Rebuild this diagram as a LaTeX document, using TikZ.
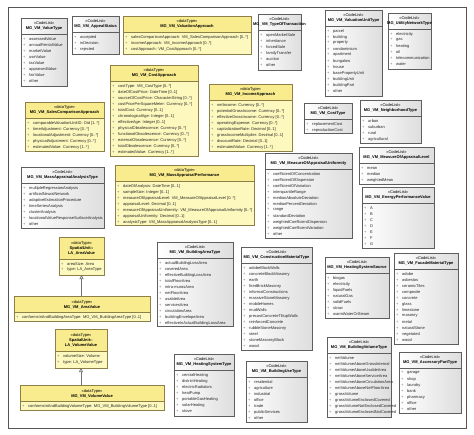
\documentclass[tikz,border=0pt]{standalone}
\usepackage{fontspec}
\setmainfont{Liberation Sans}
\usetikzlibrary{arrows.meta}
\definecolor{clborder}{HTML}{5E5E5E}
\definecolor{dtborder}{HTML}{8C8048}
\definecolor{dtbody}{HTML}{FDF8BE}
\definecolor{dthead}{HTML}{F8EC8E}
\definecolor{bulc}{HTML}{6E6E6E}
\definecolor{framec}{HTML}{555555}
\tikzset{
  clbox/.style={draw=none, left color=white, right color=black!13, inner sep=0pt, outer sep=0pt},
  dtbox/.style={draw=none, fill=dtbody, inner sep=0pt, outer sep=0pt},
  clhd/.style={},
  dthd/.style={fill=dthead},
  clline/.style={draw=clborder, line width=0.6pt},
  dtline/.style={draw=dtborder, line width=0.6pt},
  itemtxt/.style={anchor=west, inner sep=0pt, font=\fontsize{4}{5}\selectfont, text=black!85},
  headtxt/.style={align=center, inner sep=0pt, font=\fontsize{4}{5}\selectfont},
  shadowbox/.style={fill=black!28},
  gen/.style={draw=black!55, line width=0.6pt, -{Triangle[open,length=4pt,width=4pt]}},
  frameline/.style={draw=framec, line width=0.8pt}
}
\newcommand\bulit{\makebox[6pt][l]{\textcolor{bulc}{+}}}
\newcommand\CL[1]{«CodeList»\\\textbf{#1}}
\newcommand\DT[1]{«dataType»\\\textbf{#1}}
% #1 id, #2 kind (cl/dt), #3 x1, #4 y1, #5 x2, #6 y2, #7 header height, #8 header, #9 items
\newcommand\ubox[9]{%
  \pgfmathsetmacro\bw{#5-#3}%
  \pgfmathsetmacro\bh{#6-#4}%
  \fill[shadowbox] (#3+1.4,#4+1.4) rectangle (#5+1.4,#6+1.4);
  \node[#2box, minimum width=\bw pt, minimum height=\bh pt, anchor=north west] (#1) at (#3,#4) {};
  \path[#2hd] (#1.north west) rectangle ([yshift=-#7pt]#1.north east);
  \draw[#2line] (#1.north west) rectangle (#1.south east);
  \draw[#2line] ([yshift=-#7pt]#1.north west) -- ([yshift=-#7pt]#1.north east);
  \node[headtxt] (#1-h) at ({(#3+#5)/2},{#4+#7/2+0.4}) {#8};
  \foreach \t [count=\i] in {#9} {
    \node[itemtxt] (#1-\i) at (#3+2,{#4+#7+5+6*(\i-1)}) {\bulit\t};
  }
}
\begin{document}
\begin{tikzpicture}[x=1pt,y=-1pt]
\useasboundingbox (0,0) rectangle (474,434);
\fill[white] (0,0) rectangle (474,434);
\draw[frameline] (8,7) rectangle (466,428);

\ubox{vt}{cl}{21}{18}{67}{86}{16}{\CL{MG\_VM\_ValueType}}{assessedValue,annualRentalValue,marketValue,useValue,taxValue,appraisedValue,fairValue,other}
\ubox{as}{cl}{72}{16}{119}{54}{16}{\CL{MG\_VM\_AppealStatus}}{accepted,inDecision,rejected}
\ubox{va}{dt}{123}{16}{251}{54}{16}{\DT{MG\_VM\_ValuationApproach}}{{salesComparisonApproach: VM\_SalesComparisonApproach [0..*]},{incomeApproach: VM\_IncomeApproach [0..*]},{costApproach: VM\_CostApproach [0..*]}}
\ubox{tt}{cl}{258}{14}{301}{70}{16}{\CL{MG\_VM\_TypeOfTransaction}}{openMarketSale,inheritance,forcedSale,familyTransfer,auction,other}
\ubox{vu}{cl}{325}{10}{382}{96}{16}{\CL{MG\_VM\_ValuationUnitType}}{parcel,building,property,condominium,apartment,bungalow,house,basePropertyUnit,buildingUnit,buildingPart,other}
\ubox{un}{cl}{388}{13}{431}{69}{16}{\CL{MG\_UtilityNetworkType}}{electricity,gas,heating,oil,telecommunication,water}

\ubox{ca}{dt}{110}{65}{198}{156}{16}{\DT{MG\_VM\_CostApproach}}{{costType: VM\_CostType [0..*]},{dateOfCostPrice: DateTime [0..1]},{sourceOfCostPrice: CharacterString [0..*]},{costPricePerSquareMeter: Currency [0..*]},{totalCost: Currency [0..1]},{chronologicalAge: Integer [0..1]},{effectiveAge: Integer [0..1]},{physicalObsolescence: Currency [0..*]},{functionalObsolescence: Currency [0..*]},{externalObsolescence: Currency [0..*]},{totalObsolescence: Currency [0..*]},{estimatedValue: Currency [1..*]}}
\ubox{ia}{dt}{209}{84}{292}{151}{16}{\DT{MG\_VM\_IncomeApproach}}{{netIncome: Currency [0..*]},{potentialGrossIncome: Currency [0..*]},{effectiveGrossIncome: Currency [0..*]},{operatingExpense: Currency [0..*]},{capitalizationRate: Decimal [0..1]},{grossIncomeMultiplier: Decimal [0..1]},{discountRate: Decimal [0..1]},{estimatedValue: Currency [1..*]}}
\ubox{sc}{dt}{25}{102}{104}{151}{16}{\DT{MG\_VM\_SalesComparisonApproach}}{{comparableValuationUnitID: Oid [1..*]},{timeAdjustment: Currency [0..*]},{locationalAdjustment: Currency [0..*]},{physicalAdjustment: Currency [0..*]},{estimatedValue: Currency [1..*]}}
\ubox{ct}{cl}{304}{103}{352}{133}{16}{\CL{MG\_VM\_CostType}}{replacementCost,reproductionCost}
\ubox{nt}{cl}{360}{100}{421}{143}{16}{\CL{MG\_VM\_NeighborhoodType}}{urban,suburban,rural,agricultural}
\ubox{ml}{cl}{359}{147}{434}{184}{16}{\CL{MG\_VM\_MeasureOfAppraisalLevel}}{mean,median,weightedMean}
\ubox{ep}{cl}{362}{187}{434}{248}{16}{\CL{MG\_VM\_EnergyPerformanceValue}}{A,B,C,D,E,F,G}
\ubox{mu}{cl}{265}{153}{352}{238}{16}{\CL{MG\_VM\_MeasureOfAppraisalUniformity}}{coefficientOfConcentration,coefficientOfDispersion,coefficientOfVariation,interquartileRange,medianAbsoluteDeviation,medianPercentDeviation,range,standardDeviation,weightedCoefficientDispersion,weightedCoefficientVariation,other}
\ubox{mp}{dt}{115}{165}{254}{225}{16}{\DT{MG\_VM\_MassAppraisalPerformance}}{{dateOfAnalysis: DateTime [0..1]},{sampleSize: Integer [0..1]},{measureOfAppraisalLevel: VM\_MeasureOfAppraisalLevel [0..*]},{appraisalLevel: Decimal [0..1]},{measureOfAppraisalUniformity: VM\_MeasureOfAppraisalUniformity [0..*]},{appraisalUniformity: Decimal [0..1]},{analysisType: VM\_MassAppraisalAnalysisType [0..1]}}
\ubox{mt}{cl}{21}{167}{104}{228}{16}{\CL{MG\_VM\_MassAppraisalAnalysisType}}{multipleRegressionAnalysis,artificialNeuralNetwork,adaptiveEstimationProcedure,timeSeriesAnalysis,clusterAnalysis,locationalValueResponseSurfaceAnalysis,other}

\ubox{la}{dt}{59}{237}{104}{275}{22}{«dataType»\\\textbf{SpatialUnit::}\\\textbf{LA\_AreaValue}}{{areaSize: Area},{type: LA\_AreaType}}
\ubox{av}{dt}{14}{296}{150}{321}{16}{\DT{MG\_VM\_AreaValue}}{{conformsInAndBuildingAreaType: MG\_VM\_BuildingAreaType [0..1]}}
\ubox{lv}{dt}{55}{329}{107}{368}{22}{«dataType»\\\textbf{SpatialUnit::}\\\textbf{LA\_VolumeValue}}{{volumeSize: Volume},{type: LA\_VolumeType}}
\ubox{vv}{dt}{20}{385}{164}{410}{16}{\DT{MG\_VM\_VolumeValue}}{{conformsInAndBuildingVolumeType: MG\_VM\_BuildingVolumeType [0..1]}}

\ubox{ba}{cl}{157}{242}{233}{326}{16}{\CL{MG\_VM\_BuildingAreaType}}{actualBuildingLossArea,coveredArea,effectiveBuildingLossArea,totalFloorArea,intra-murosArea,netFloorArea,usableArea,servicesArea,circulationArea,buildingEnvelopeArea,effectiveInActualBuildingLossArea}
\ubox{cm}{cl}{241}{247}{312}{350}{16}{\CL{MG\_VM\_ConstructionMaterialType}}{adobeBlockWalls,concreteBlockMasonry,earth,firedBrickMasonry,informalConstructions,massiveStoneMasonry,mobileHomes,mudWalls,precastConcreteTiltupWalls,reinforcedConcrete,rubbleStoneMasonry,steel,stoneMasonryBlock,wood}
\ubox{hs}{cl}{325}{257}{389}{318}{16}{\CL{MG\_VM\_HeatingSystemSource}}{biogas,electricity,liquidFuels,naturalGas,solidFuels,straw,warmWaterOrSteam}
\ubox{fm}{cl}{394}{253}{458}{344}{16}{\CL{MG\_VM\_FacadeMaterialType}}{adobe,asbestos,ceramicTiles,composite,concrete,glass,limestone,masonry,metal,naturalStone,vegetated,wood}
\ubox{ht}{cl}{174}{354}{234}{416}{16}{\CL{MG\_VM\_HeatingSystemType}}{centralHeating,districtHeating,electricRadiators,heatPump,portableGasHeating,solarHeating,stove}
\ubox{bu}{cl}{246}{361}{307}{422}{16}{\CL{MG\_VM\_BuildingUseType}}{residential,agriculture,industrial,office,trade,publicServices,other}
\ubox{bv}{cl}{327}{337}{391}{417}{16}{\CL{MG\_VM\_BuildingVolumeType}}{netVolume,netVolumeAboveGrossInternal,netVolumeAboveUsableArea,netVolumeAboveServiceArea,netVolumeAboveCirculationArea,netVolumeAboveNetFloorArea,grossVolume,grossVolumeEnclosedCovered,grossVolumeNotEnclosedCovered,grossVolumeEnclosedNotCovered}
\ubox{ap}{cl}{399}{352}{461}{413}{16}{\CL{MG\_VM\_AccessoryPartType}}{garage,shop,laundry,bank,pharmacy,office,other}

\draw[gen] (av.north -| la.south) -- (la.south);
\draw[gen] (vv.north -| lv.south) -- (lv.south);
\end{tikzpicture}
\end{document}
